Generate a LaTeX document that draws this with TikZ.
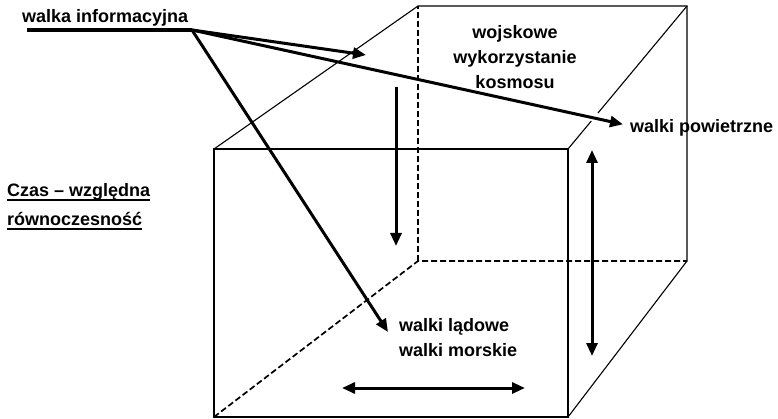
\documentclass[tikz,border=0pt]{standalone}
\usepackage{fontspec}
\setmainfont{Liberation Sans}
\usetikzlibrary{arrows.meta}
\begin{document}
\begin{tikzpicture}[x=1pt,y=-1pt,
  edge/.style={line width=1.1pt, line join=miter},
  hidden/.style={line width=1.7pt, dash pattern=on 6pt off 3pt},
  arr/.style={line width=3pt, -{Triangle[length=13pt,width=11pt]}},
  darr/.style={line width=3pt, {Triangle[length=13pt,width=11pt]}-{Triangle[length=13pt,width=11pt]}},
  lbl/.style={font=\bfseries\fontsize{18}{25}\selectfont, inner sep=0pt},
  uline/.style={line width=2pt}
]
\useasboundingbox (0,0) rectangle (778,419);
% cube corners
\coordinate (f1) at (214,149);
\coordinate (f2) at (568,149);
\coordinate (f3) at (568,417);
\coordinate (f4) at (214,417);
\coordinate (b1) at (418,6);
\coordinate (b2) at (687,6);
\coordinate (b3) at (687,261);
\coordinate (b4) at (418,261);
\coordinate (g1) at (591.3,121);
\coordinate (g2) at (598,113);
% visible edges
\draw[edge] (f1) -- (f2) -- (f3) -- (f4) -- cycle;
\draw[edge] (f1) -- (b1) -- (b2) -- (b3) -- (f3);
\draw[edge] (f2) -- (g1);
\draw[edge] (g2) -- (b2);
% hidden edges
\draw[hidden] (f4) -- (b4) -- (b3);
\draw[hidden] (b4) -- (b1);
% labels
\node[lbl, anchor=base west] (wi) at (22,23) {walka informacyjna};
\coordinate (ul) at (27,30);
\coordinate (src) at (192,30);
\draw[line width=4pt] (ul) -- (src);
\node[lbl, align=center, anchor=north] (kos) at (515,25) {wojskowe\\wykorzystanie\\kosmosu};
\node[lbl, anchor=base west] (wp) at (630,133) {walki powietrzne};
\node[lbl, align=left, anchor=north west] (wl) at (399,318) {walki lądowe\\walki morskie};
\node[lbl, anchor=base west] (c1) at (7,197) {Czas – względna};
\node[lbl, anchor=base west] (c2) at (7,226) {równoczesność};
\draw[uline] ([yshift=-3pt]c1.base west) -- ([yshift=-3pt]c1.base east);
\draw[uline] ([yshift=-3pt]c2.base west) -- ([yshift=-3pt]c2.base east);
% arrow end points
\coordinate (t1) at (366,55);
\coordinate (t3) at (388,332);
\coordinate (v1) at (396,87);
\coordinate (v2) at (396,246);
\coordinate (d1) at (592,150);
\coordinate (d2) at (592,356);
\coordinate (h1) at (342,388);
\coordinate (h2) at (525,388);
% arrows
\draw[arr] (src) -- (t1);
\draw[arr] (src) -- ([xshift=-7pt,yshift=4pt]wp.west);
\draw[arr] (src) -- (t3);
\draw[arr] (v1) -- (v2);
\draw[darr] (d1) -- (d2);
\draw[darr] (h1) -- (h2);
\end{tikzpicture}
\end{document}
